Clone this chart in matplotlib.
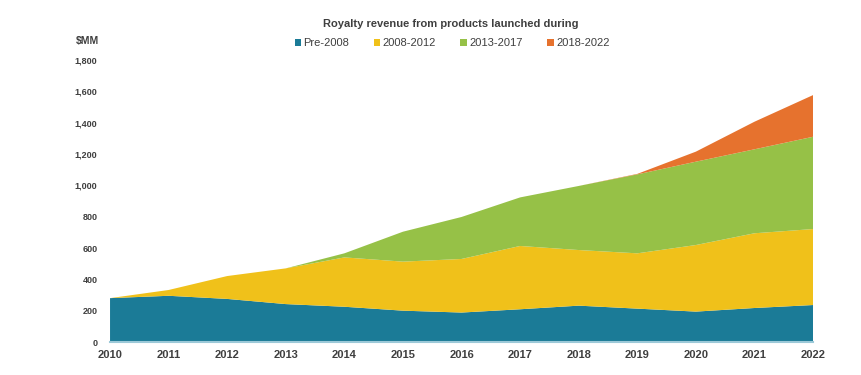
import numpy as np
import matplotlib.pyplot as plt
from matplotlib.patches import Patch

# 数据（单位：百万美元）
years = list(range(2010, 2023))
pre_2008 = [280, 295, 275, 242, 225, 200, 188, 209, 232, 213, 194, 217, 236]
p2008_2012 = [0, 37, 146, 228, 315, 313, 342, 404, 355, 353, 425, 477, 485]
p2013_2017 = [0, 0, 0, 0, 26, 191, 268, 310, 409, 504, 532, 536, 589]
p2018_2022 = [0, 0, 0, 0, 0, 0, 0, 0, 0, 3, 64, 176, 266]
series_names = ["Pre-2008", "2008-2012", "2013-2017", "2018-2022"]
colors = ["#1B7B97", "#F0C11A", "#96C147", "#E6722E"]
y_ticks = list(range(0, 2000, 200))

plt.rcParams['font.family'] = ['Liberation Sans', 'DejaVu Sans']
text_color = "#3f3f3f"

fig = plt.figure(figsize=(8.61, 3.75), dpi=100)
ax = fig.add_axes([0.1278, 0.088, 0.8165, 0.752])

ax.stackplot(years, pre_2008, p2008_2012, p2013_2017, p2018_2022,
             colors=colors, linewidth=0)

ax.set_xlim(2010, 2022)
ax.set_ylim(0, 1800)
ax.set_xticks(years)
ax.set_xticklabels([str(y) for y in years], fontsize=8, fontweight='bold', color=text_color)
ax.set_yticks(y_ticks)
ax.set_yticklabels([f"{v:,}" for v in y_ticks], fontsize=6.5, fontweight='bold', color=text_color)
ax.tick_params(axis='both', length=0)
ax.tick_params(axis='y', pad=9)
ax.tick_params(axis='x', pad=6)

for s in ['top', 'right', 'left']:
    ax.spines[s].set_visible(False)
ax.spines['bottom'].set_color('#9cc9d8')
ax.spines['bottom'].set_linewidth(1.5)

fig.text(0.524, 0.935, "Royalty revenue from products launched during",
         ha='center', va='center', fontsize=8, fontweight='bold', color=text_color)
fig.text(0.088, 0.89, "$MM", ha='left', va='center', fontsize=7.5,
         fontweight='bold', color=text_color)

handles = [Patch(facecolor=c, label=n) for c, n in zip(colors, series_names)]
fig.legend(handles=handles, loc='center', bbox_to_anchor=(0.525, 0.885), ncol=4,
           frameon=False, fontsize=8, handlelength=0.6, handleheight=0.6,
           handletextpad=0.2, columnspacing=2.2, labelcolor=text_color)

plt.savefig("out.png", dpi=100)
